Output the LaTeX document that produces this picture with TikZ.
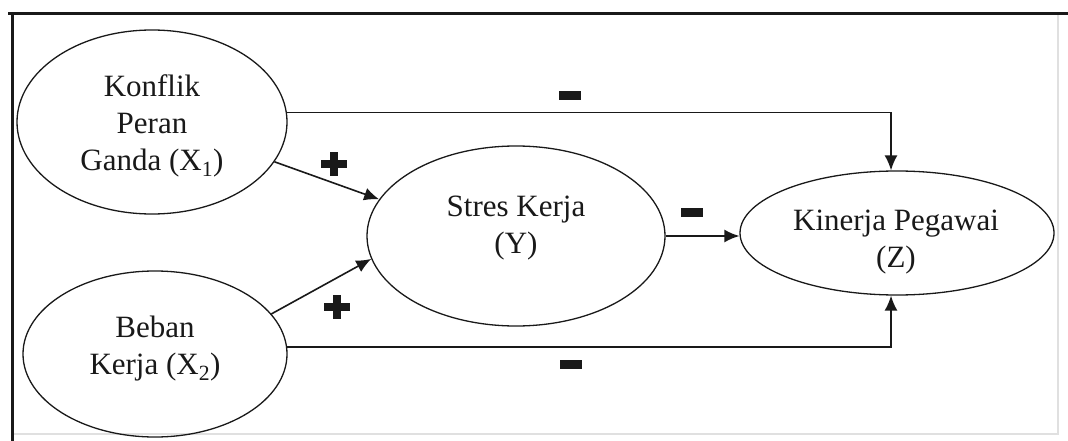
\documentclass[tikz,border=0pt]{standalone}
\usepackage{fontspec}
\setmainfont{Liberation Serif}
\usetikzlibrary{arrows.meta,shapes.geometric,calc}
\tikzset{
  var/.style={ellipse, draw=black!90, line width=1.3pt, inner sep=0pt},
  lbl/.style={align=center, font=\fontsize{31}{37}\selectfont, text=black!90},
  link/.style={draw=black!90, line width=1.6pt},
  arr/.style={link, -{Latex[length=15pt,width=13pt]}},
}
% heavy plus / minus sign markers
\newcommand{\plussign}[1]{%
  \fill[black!90] ($#1+(-13,-4)$) rectangle ($#1+(13,4)$);
  \fill[black!90] ($#1+(-4,-12)$) rectangle ($#1+(4,12)$);}
\newcommand{\minussign}[1]{%
  \fill[black!90] ($#1+(-11,-4.5)$) rectangle ($#1+(11,4.5)$);}
\begin{document}
\begin{tikzpicture}[x=1pt,y=-1pt]
\useasboundingbox (0,0) rectangle (1068,441);
\fill[white] (0,0) rectangle (1068,441);
% frame
\draw[black!12, line width=1.2pt] (1058,14) -- (1058,434) -- (12,434);
\draw[black!90, line width=3pt] (8,14) -- (1068,14);
\draw[black!90, line width=3pt] (12,14) -- (12,441);

% variables
\node[var, minimum width=270pt, minimum height=184pt] (x1) at (152,122) {};
\node[var, minimum width=264pt, minimum height=166pt] (x2) at (155,354) {};
\node[var, minimum width=298pt, minimum height=180pt] (y) at (516,236) {};
\node[var, minimum width=314pt, minimum height=124pt] (z) at (897,233) {};

\node[lbl] (x1t) at (152,126) {Konflik\\Peran\\Ganda (X\textsubscript{1})};
\node[lbl] (x2t) at (155,349) {Beban\\Kerja (X\textsubscript{2})};
\node[lbl] (yt) at (516,228) {Stres Kerja\\(Y)};
\node[lbl] (zt) at (896,242) {Kinerja Pegawai\\(Z)};

% paths
\draw[arr] (x1.-18) -- (y.165);
\draw[arr] (x2.19) -- (y.189);
\draw[arr] (y.east) -- (y.east -| z.west);
\draw[arr] (x1.4) -| ([xshift=-6pt]z.north);
\draw[arr] (x2.3) -| ([xshift=-6pt]z.south);

% signs
\plussign{(334,164)}
\plussign{(337,307)}
\minussign{(570,96)}
\minussign{(692,212)}
\minussign{(571,364)}
\end{tikzpicture}
\end{document}
